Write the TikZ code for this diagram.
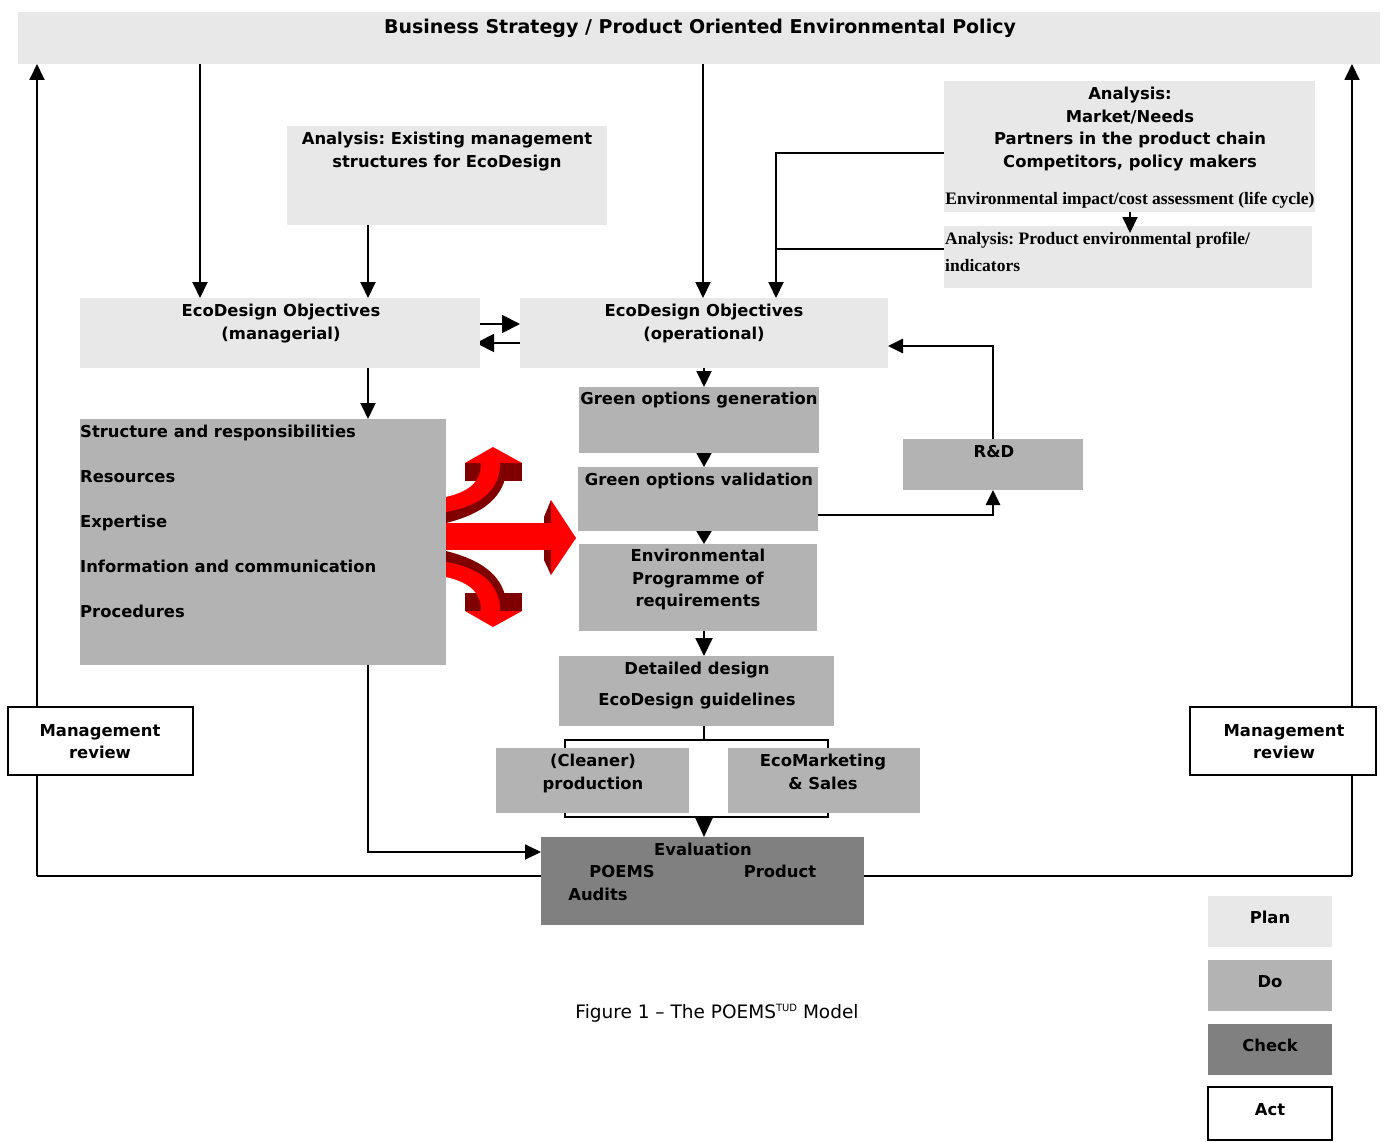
\documentclass[tikz,border=0pt]{standalone}
\usepackage{fontspec}
\setmainfont{DejaVu Sans}
\newfontfamily\tnr{Liberation Serif}
\usetikzlibrary{arrows.meta,calc}
\pgfdeclarelayer{bg}
\pgfsetlayers{bg,main}
\definecolor{planc}{HTML}{E8E8E8}
\definecolor{doc}{HTML}{B3B3B3}
\definecolor{checkc}{HTML}{808080}
\definecolor{dred}{HTML}{800000}
\definecolor{bred}{HTML}{FF0000}
\frenchspacing
\begin{document}
\begin{tikzpicture}[x=1pt, y=-1pt,
  box/.style={inner sep=0pt, outer sep=0pt, anchor=north west},
  txt/.style={inner sep=0pt, font=\bfseries\fontsize{16.4}{22.5}\selectfont, align=center, anchor=north},
  serif/.style={inner sep=0pt, font=\tnr\bfseries\fontsize{17.5}{27}\selectfont, align=left, anchor=north west},
  line/.style={line width=1.9pt},
  arr/.style={line width=1.9pt, -{Triangle[length=16pt,width=15pt]}},
  tarr/.style={line width=2.8pt, -{Triangle[length=15pt,width=14pt]}}]
\useasboundingbox (0,0) rectangle (1386,1142);

% columns
\coordinate (c200) at (200,0);
\coordinate (c368) at (368,0);
\coordinate (c703) at (703,0);
\coordinate (cC) at (704,0);
\coordinate (c776) at (776,0);
\coordinate (c1130) at (1130,0);

% boxes
\node[box, fill=planc, minimum width=1362pt, minimum height=52pt] (tb) at (18,12) {};
\node[txt, font=\bfseries\fontsize{19}{22}\selectfont] (t-tb) at (700,19) {Business Strategy / Product Oriented Environmental Policy};

\node[box, fill=planc, minimum width=320pt, minimum height=99pt] (exist) at (287,126) {};
\node[txt] (t-exist) at (447,132) {Analysis: Existing management\\structures for EcoDesign};

\node[box, fill=planc, minimum width=400pt, minimum height=70pt] (mgr) at (80,298) {};
\node[txt] (t-mgr) at (281,304) {EcoDesign Objectives\\(managerial)};

\node[box, fill=planc, minimum width=368pt, minimum height=70pt] (op) at (520,298) {};
\node[txt] (t-op) at (704,304) {EcoDesign Objectives\\(operational)};

\node[box, fill=planc, minimum width=371pt, minimum height=131pt] (mkt) at (944,81) {};
\node[txt] (t-mkt) at (1130,87) {Analysis:\\Market/Needs\\Partners in the product chain\\Competitors, policy makers};
\node[serif, anchor=north] (t-mkt2) at (1130,192) {Environmental impact/cost assessment (life cycle)};

\node[box, fill=planc, minimum width=368pt, minimum height=62pt] (prof) at (944,226) {};
\node[serif] (t-prof) at (945,232) {Analysis: Product environmental profile/\\indicators};

\node[box, fill=doc, minimum width=366pt, minimum height=246pt] (struct) at (80,419) {};
\node[txt, align=left, anchor=north west, font=\bfseries\fontsize{16.4}{45}\selectfont] (t-struct) at (80,425)
  {Structure and responsibilities\\Resources\\Expertise\\Information and communication\\Procedures};

\node[box, fill=doc, minimum width=240pt, minimum height=66pt] (gen) at (579,387) {};
\node[txt] (t-gen) at (699,392) {Green options generation};

\node[box, fill=doc, minimum width=240pt, minimum height=64pt] (val) at (578,467) {};
\node[txt] (t-val) at (699,473) {Green options validation};

\node[box, fill=doc, minimum width=238pt, minimum height=87pt] (env) at (579,544) {};
\node[txt] (t-env) at (698,549) {Environmental\\Programme of\\requirements};

\node[box, fill=doc, minimum width=275pt, minimum height=70pt] (det) at (559,656) {};
\node[txt, font=\bfseries\fontsize{16.4}{31}\selectfont] (t-det) at (697,662) {Detailed design\\EcoDesign guidelines};

\node[box, fill=doc, minimum width=193pt, minimum height=65pt] (cln) at (496,748) {};
\node[txt] (t-cln) at (593,754) {(Cleaner)\\production};

\node[box, fill=doc, minimum width=192pt, minimum height=65pt] (mks) at (728,748) {};
\node[txt] (t-mks) at (823,754) {EcoMarketing\\\& Sales};

\node[box, fill=checkc, minimum width=323pt, minimum height=88pt] (ev) at (541,837) {};
\node[txt] (t-ev) at (703,843) {Evaluation};
\node[txt] (t-ev1) at (622,865) {POEMS};
\node[txt] (t-ev2) at (780,865) {Product};
\node[txt] (t-ev3) at (598,888) {Audits};

\node[box, fill=doc, minimum width=180pt, minimum height=51pt] (rd) at (903,439) {};
\node[txt] (t-rd) at (994,445) {R\&D};

\node[box, draw, line width=1.4pt, fill=white, minimum width=185pt, minimum height=68pt] (mrL) at (8,707) {};
\node[txt] (t-mrL) at (100,724) {Management\\review};
\node[box, draw, line width=1.4pt, fill=white, minimum width=186pt, minimum height=68pt] (mrR) at (1190,707) {};
\node[txt] (t-mrR) at (1284,724) {Management\\review};

% legend
\node[box, fill=planc, minimum width=124pt, minimum height=51pt] (lp) at (1208,896) {};
\node[txt] (t-lp) at (1270,911) {Plan};
\node[box, fill=doc, minimum width=124pt, minimum height=51pt] (ld) at (1208,960) {};
\node[txt] (t-ld) at (1270,975) {Do};
\node[box, fill=checkc, minimum width=124pt, minimum height=51pt] (lc) at (1208,1024) {};
\node[txt] (t-lc) at (1270,1039) {Check};
\node[box, draw, line width=1.8pt, fill=white, minimum width=124pt, minimum height=53pt] (la) at (1208,1087) {};
\node[txt] (t-la) at (1270,1103) {Act};

\node[inner sep=0pt, anchor=north, font=\fontsize{18.5}{22}\selectfont] (cap) at (717,1004) {Figure 1 – The POEMS\raisebox{6.5pt}{\fontsize{10}{10}\selectfont TUD} Model};

% connectors (background)
\begin{pgfonlayer}{bg}
\coordinate (lb) at (37,876);
\coordinate (rb) at (1352,876);
\draw[line, line width=2.2pt] (lb) -- (rb);
\draw[arr] (lb) -- (tb.south -| lb);
\draw[arr] (rb) -- (tb.south -| rb);

\draw[arr] (tb.south -| c200) -- (mgr.north -| c200);
\draw[arr] (tb.south -| c703) -- (op.north -| c703);
\draw[arr] (exist.south -| c368) -- (mgr.north -| c368);
\draw[arr] (mgr.south -| c368) -- (struct.north -| c368);
\draw[arr] (struct.south -| c368) |- ([yshift=-15pt]ev.north west);

\draw[arr, -{Triangle[length=18pt,width=18pt]}] ([yshift=-26pt]mgr.north east) -- ([yshift=-26pt]op.north west);
\draw[arr, -{Triangle[length=18pt,width=18pt]}] ([yshift=-45pt]op.north west) -- ([yshift=-45pt,xshift=-4pt]mgr.north east);

\draw[arr] ([yshift=-72pt]mkt.north west) -| (op.north -| c776);
\coordinate (pL) at ([yshift=-23pt]prof.north west);
\draw[line] (pL) -- (pL -| c776);

\draw[arr] (op.south -| cC) -- (gen.north -| cC);
\draw[arr, -{Triangle[length=14pt,width=15pt]}] (gen.south -| cC) -- (val.north -| cC);
\draw[arr, -{Triangle[length=13pt,width=15pt]}] (val.south -| cC) -- (env.north -| cC);
\draw[arr, -{Triangle[length=18pt,width=17pt]}] (env.south -| cC) -- (det.north -| cC);

\coordinate (bL1) at (565,740);
\coordinate (bR1) at (828,740);
\coordinate (bL2) at (565,817);
\coordinate (bR2) at (828,817);
\draw[line] (det.south -| cC) -- (cC |- bL1);
\draw[line] (bR1) -- (bL1) -- (bL2) -- (bR2) -- cycle;
\draw[arr, -{Triangle[length=19pt,width=17pt]}] (cC |- bL2) -- (ev.north -| cC);

\draw[tarr] ([yshift=-48pt]val.north east) -| (rd.south);
\draw[tarr] (rd.north) |- ([yshift=-48pt]op.north east);
\end{pgfonlayer}

\draw[arr] (mkt.south -| c1130) -- ([yshift=-7pt]prof.north -| c1130);

% red arrow
\fill[dred] (465,463) rectangle (522,481);
\fill[bred] (465,463) -- (522,463) -- (493,447) -- cycle;
\fill[dred] (446,505) .. controls (485,498) and (500,485) .. (500,463) -- (507,463) .. controls (507,492) and (490,512) .. (446,523) -- cycle;
\fill[bred] (446,497) .. controls (472,491) and (481,480) .. (481,463) -- (500,463) .. controls (500,487) and (485,505) .. (446,512) -- cycle;

\fill[dred] (465,593) rectangle (522,611);
\fill[bred] (465,611) -- (522,611) -- (493,627) -- cycle;
\fill[dred] (446,569) .. controls (485,576) and (500,589) .. (500,611) -- (507,611) .. controls (507,582) and (490,562) .. (446,551) -- cycle;
\fill[bred] (446,577) .. controls (472,583) and (481,594) .. (481,611) -- (500,611) .. controls (500,587) and (485,569) .. (446,562) -- cycle;

\fill[dred] (544,517) -- (551,500) -- (551,575) -- (544,560) -- cycle;
\fill[bred] (446,523) rectangle (551,550);
\fill[bred] (551,500) -- (576,538) -- (551,575) -- cycle;
\end{tikzpicture}
\end{document}
